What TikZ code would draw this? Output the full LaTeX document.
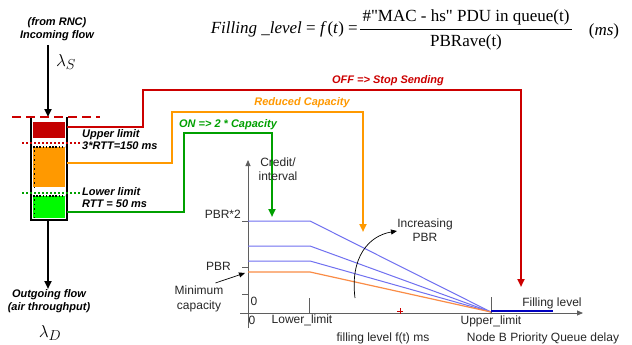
\documentclass[tikz,border=0pt]{standalone}
\usepackage{fontspec}
\setmainfont{Liberation Sans}
\newfontfamily\eqfont{Liberation Serif}
\usetikzlibrary{arrows.meta}
\definecolor{cred}{RGB}{204,0,0}
\definecolor{cfillred}{RGB}{196,0,0}
\definecolor{corange}{RGB}{255,153,0}
\definecolor{cgreen}{RGB}{0,160,0}
\definecolor{cfillgreen}{RGB}{0,250,0}
\definecolor{cblue}{RGB}{112,112,240}
\definecolor{corgline}{RGB}{250,140,70}
\definecolor{caxis}{RGB}{95,95,95}
\begin{document}
\begin{tikzpicture}[x=1pt,y=-1pt,
  lbl/.style={font=\fontsize{11}{12.8}\selectfont\bfseries\itshape, inner sep=0pt, align=left},
  chart/.style={font=\fontsize{12}{14.5}\selectfont, inner sep=0pt, text=black!85, align=center},
  conn/.style={line width=2pt, line join=miter},
  tipbig/.style={-{Triangle[length=8pt,width=7pt]}},
  tipsmall/.style={-{Triangle[length=6pt,width=5pt]}},
  eqf/.style={font=\eqfont\fontsize{17}{19}\selectfont, inner sep=0pt},
  bluecurve/.style={cblue, line width=1pt},
  axisline/.style={caxis, line width=0.8pt},
]
\useasboundingbox[fill=white] (0,0) rectangle (632,345);

% ---------- equation ----------
\node[eqf, anchor=base east] (lhs) at (358,34) {\textit{Filling \_level} = \textit{f\,}(\textit{t}) =};
\node[eqf, anchor=base] (num) at (466,22) {\#"MAC - hs" PDU in queue(t)};
\node[eqf, anchor=base] (den) at (466,47) {PBRave(t)};
\coordinate (barL) at (360,29);
\coordinate (barR) at (572,29);
\draw[line width=0.9pt] (barL) -- (barR);
\node[eqf, anchor=base] (ms) at (604,36) {(\textit{ms})};

% ---------- queue ----------
\node[lbl, align=center] (inflow) at (57,29) {(from RNC)\\Incoming flow};
\coordinate (inS) at (48,45);
\coordinate (qtop) at (48,117);
\draw[line width=2pt, tipbig] (inS) -- (qtop);
\node[font=\fontsize{19}{21}\selectfont] (lamS) at (66,62) {$\lambda_S$};

\fill[cfillred] (33,122) rectangle (65,138);
\fill[corange] (33,147) rectangle (65,187);
\fill[cfillgreen] (33,196) rectangle (65,218);
\draw[black, line width=1.4pt, dash pattern=on 1.6pt off 1.6pt] (33,147) -- (65,147);
\draw[black, line width=1.4pt, dash pattern=on 1.6pt off 1.6pt] (33,196) -- (65,196);
\draw[black, line width=1.2pt, dash pattern=on 1.6pt off 3pt] (34.5,150) -- (34.5,187);
\draw[black, line width=1.2pt, dash pattern=on 1.6pt off 3pt] (34.5,199) -- (34.5,218);

\coordinate (bTL) at (31,117);
\coordinate (bBL) at (31,220);
\coordinate (bBR) at (67,220);
\coordinate (bTR) at (67,117);
\draw[line width=2pt, line join=miter] (bTL) -- (bBL) -- (bBR) -- (bTR);

\draw[cred, line width=2.5pt, dash pattern=on 9pt off 5pt] (12,117) -- (100,117);
\draw[cred, line width=2pt, dash pattern=on 2pt off 2pt] (22,143) -- (82,143);
\draw[cgreen, line width=2pt, dash pattern=on 2pt off 2pt] (22,193) -- (80,193);

\coordinate (qbot) at (48,220);
\coordinate (outE) at (48,289);
\draw[line width=2pt, tipbig] (qbot) -- (outE);
\node[lbl, align=center] (outflow) at (49,301) {Outgoing flow\\(air throughput)};
\node[font=\fontsize{19}{21}\selectfont] (lamD) at (50,333) {$\lambda_D$};

\node[lbl, anchor=north west] (upper) at (82,129) {Upper limit\\3*RTT=150 ms};
\node[lbl, anchor=north west] (lower) at (82,187) {Lower limit\\RTT = 50 ms};

% ---------- control connectors ----------
\coordinate (r0) at (67,127);
\coordinate (r1) at (143,127);
\coordinate (r2) at (143,90);
\coordinate (r3) at (521,90);
\coordinate (r4) at (521,287);
\draw[conn, cred, tipbig] (r0) -- (r1) -- (r2) -- (r3) -- (r4);
\node[lbl, text=cred] (off) at (388,81) {OFF => Stop Sending};

\coordinate (o0) at (67,163);
\coordinate (o1) at (172,163);
\coordinate (o2) at (172,112);
\coordinate (o3) at (363,112);
\coordinate (o4) at (363,232);
\draw[conn, corange, tipbig] (o0) -- (o1) -- (o2) -- (o3) -- (o4);
\node[lbl, text=corange] (red) at (302,103) {Reduced Capacity};

\coordinate (g0) at (67,212);
\coordinate (g1) at (184,212);
\coordinate (g2) at (184,133);
\coordinate (g3) at (272,133);
\coordinate (g4) at (272,217);
\draw[conn, cgreen, tipbig] (g0) -- (g1) -- (g2) -- (g3) -- (g4);
\node[lbl, text=cgreen] (on) at (228,125) {ON => 2 * Capacity};

% ---------- chart ----------
\coordinate (yb) at (248,328);
\coordinate (yt) at (248,160);
\coordinate (xl) at (240,313);
\coordinate (xr) at (583,313);
\draw[axisline, tipsmall] (yb) -- (yt);
\draw[axisline, tipsmall] (xl) -- (xr);
\draw[axisline] (242,221) -- (248,221);
\draw[axisline] (242,267) -- (248,267);
\draw[axisline] (242,294) -- (248,294);
\draw[axisline] (309,298) -- (309,313);
\draw[axisline] (491,297) -- (491,313);

\coordinate (ul) at (491,312);
\draw[bluecurve] (248,221) -- (310,221) -- (ul);
\draw[bluecurve] (248,246) -- (310,246) -- (ul);
\draw[bluecurve] (248,261) -- (310,261) -- (ul);
\draw[corgline, line width=1.2pt] (248,272) -- (310,272) -- (ul);
\draw[blue!75!black, line width=2pt] (491,311) -- (553,311);
\draw[cred, line width=0.6pt] (397,311) -- (403,311) (400,308) -- (400,314);

\node[chart] (credit) at (278,169) {Credit/\\interval};
\node[chart, anchor=east] (pbr2) at (241,214) {PBR*2};
\node[chart, anchor=east] (pbr) at (231,266) {PBR};
\node[chart] (mincap) at (199,299) {Minimum\\capacity};
\coordinate (mintip) at (245,273);
\draw[black, line width=0.7pt, tipsmall] (mincap.north east) ++(-8,-3) coordinate (minstart) -- (mintip);
\node[chart] (zero1) at (254,301) {0};
\node[chart] (zero2) at (252,320) {0};
\node[chart] (lowl) at (302,320) {Lower\_limit};
\node[chart] (fill1) at (383,338) {filling level f(t) ms};
\node[chart] (uppl) at (491,321) {Upper\_limit};
\node[chart] (nodeb) at (543,338) {Node B Priority Queue delay};
\node[chart] (fill2) at (552,303) {Filling level};
\node[chart] (incr) at (425,230) {Increasing\\PBR};
\coordinate (cstart) at (355,298);
\coordinate (cend) at (397,231);
\draw[black, line width=0.7pt, tipsmall] (cstart) .. controls (350,258) and (368,236) .. (cend);
\end{tikzpicture}
\end{document}
